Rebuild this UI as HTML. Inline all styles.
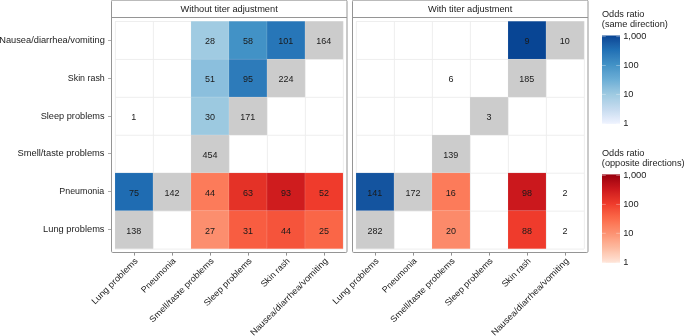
<!DOCTYPE html><html><head><meta charset="utf-8"><style>html,body{margin:0;padding:0;background:#fff;overflow:hidden}svg{display:block;will-change:transform;}text{font-family:"Liberation Sans", sans-serif;}</style></head><body>
<svg width="685" height="336" viewBox="0 0 685 336">
<rect width="685" height="336" fill="#fff"/>
<line x1="115.40" y1="21.20" x2="115.40" y2="248.78" stroke="#ececec" stroke-width="0.9"/>
<line x1="115.00" y1="21.50" x2="343.00" y2="21.50" stroke="#ececec" stroke-width="0.9"/>
<line x1="153.40" y1="21.20" x2="153.40" y2="248.78" stroke="#ececec" stroke-width="0.9"/>
<line x1="115.00" y1="59.43" x2="343.00" y2="59.43" stroke="#ececec" stroke-width="0.9"/>
<line x1="191.40" y1="21.20" x2="191.40" y2="248.78" stroke="#ececec" stroke-width="0.9"/>
<line x1="115.00" y1="97.36" x2="343.00" y2="97.36" stroke="#ececec" stroke-width="0.9"/>
<line x1="229.40" y1="21.20" x2="229.40" y2="248.78" stroke="#ececec" stroke-width="0.9"/>
<line x1="115.00" y1="135.29" x2="343.00" y2="135.29" stroke="#ececec" stroke-width="0.9"/>
<line x1="267.40" y1="21.20" x2="267.40" y2="248.78" stroke="#ececec" stroke-width="0.9"/>
<line x1="115.00" y1="173.22" x2="343.00" y2="173.22" stroke="#ececec" stroke-width="0.9"/>
<line x1="305.40" y1="21.20" x2="305.40" y2="248.78" stroke="#ececec" stroke-width="0.9"/>
<line x1="115.00" y1="211.15" x2="343.00" y2="211.15" stroke="#ececec" stroke-width="0.9"/>
<line x1="343.40" y1="21.20" x2="343.40" y2="248.78" stroke="#ececec" stroke-width="0.9"/>
<line x1="115.00" y1="249.08" x2="343.00" y2="249.08" stroke="#ececec" stroke-width="0.9"/>
<rect x="191.00" y="21.20" width="38.00" height="37.93" fill="#a0cbe2" stroke="#ffffff" stroke-opacity="0.25" stroke-width="0.4"/>
<rect x="229.00" y="21.20" width="38.00" height="37.93" fill="#4292c6" stroke="#ffffff" stroke-opacity="0.25" stroke-width="0.4"/>
<rect x="267.00" y="21.20" width="38.00" height="37.93" fill="#2776b8" stroke="#ffffff" stroke-opacity="0.25" stroke-width="0.4"/>
<rect x="305.00" y="21.20" width="38.00" height="37.93" fill="#cccccc" stroke="#ffffff" stroke-opacity="0.25" stroke-width="0.4"/>
<rect x="191.00" y="59.13" width="38.00" height="37.93" fill="#8bbfdd" stroke="#ffffff" stroke-opacity="0.25" stroke-width="0.4"/>
<rect x="229.00" y="59.13" width="38.00" height="37.93" fill="#2d7bba" stroke="#ffffff" stroke-opacity="0.25" stroke-width="0.4"/>
<rect x="267.00" y="59.13" width="38.00" height="37.93" fill="#cccccc" stroke="#ffffff" stroke-opacity="0.25" stroke-width="0.4"/>
<rect x="191.00" y="97.06" width="38.00" height="37.93" fill="#9cc9e0" stroke="#ffffff" stroke-opacity="0.25" stroke-width="0.4"/>
<rect x="229.00" y="97.06" width="38.00" height="37.93" fill="#cccccc" stroke="#ffffff" stroke-opacity="0.25" stroke-width="0.4"/>
<rect x="191.00" y="134.99" width="38.00" height="37.93" fill="#cccccc" stroke="#ffffff" stroke-opacity="0.25" stroke-width="0.4"/>
<rect x="115.00" y="172.92" width="38.00" height="37.93" fill="#1f6cb2" stroke="#ffffff" stroke-opacity="0.25" stroke-width="0.4"/>
<rect x="153.00" y="172.92" width="38.00" height="37.93" fill="#cccccc" stroke="#ffffff" stroke-opacity="0.25" stroke-width="0.4"/>
<rect x="191.00" y="172.92" width="38.00" height="37.93" fill="#fc7b5a" stroke="#ffffff" stroke-opacity="0.25" stroke-width="0.4"/>
<rect x="229.00" y="172.92" width="38.00" height="37.93" fill="#e43227" stroke="#ffffff" stroke-opacity="0.25" stroke-width="0.4"/>
<rect x="267.00" y="172.92" width="38.00" height="37.93" fill="#cf1c1e" stroke="#ffffff" stroke-opacity="0.25" stroke-width="0.4"/>
<rect x="305.00" y="172.92" width="38.00" height="37.93" fill="#ef3b2c" stroke="#ffffff" stroke-opacity="0.25" stroke-width="0.4"/>
<rect x="115.00" y="210.85" width="38.00" height="37.93" fill="#cccccc" stroke="#ffffff" stroke-opacity="0.25" stroke-width="0.4"/>
<rect x="191.00" y="210.85" width="38.00" height="37.93" fill="#fc8e6e" stroke="#ffffff" stroke-opacity="0.25" stroke-width="0.4"/>
<rect x="229.00" y="210.85" width="38.00" height="37.93" fill="#f85d41" stroke="#ffffff" stroke-opacity="0.25" stroke-width="0.4"/>
<rect x="267.00" y="210.85" width="38.00" height="37.93" fill="#f5543b" stroke="#ffffff" stroke-opacity="0.25" stroke-width="0.4"/>
<rect x="305.00" y="210.85" width="38.00" height="37.93" fill="#fa6647" stroke="#ffffff" stroke-opacity="0.25" stroke-width="0.4"/>
<text x="204.96" y="44.31" font-size="9.00" fill="#1a1a1a" textLength="10.01" lengthAdjust="spacingAndGlyphs">28</text>
<text x="243.01" y="44.31" font-size="9.00" fill="#1a1a1a" textLength="10.01" lengthAdjust="spacingAndGlyphs">58</text>
<text x="278.37" y="44.31" font-size="9.00" fill="#1a1a1a" textLength="15.02" lengthAdjust="spacingAndGlyphs">101</text>
<text x="316.28" y="44.31" font-size="9.00" fill="#1a1a1a" textLength="15.02" lengthAdjust="spacingAndGlyphs">164</text>
<text x="205.03" y="82.25" font-size="9.00" fill="#1a1a1a" textLength="10.01" lengthAdjust="spacingAndGlyphs">51</text>
<text x="242.97" y="82.25" font-size="9.00" fill="#1a1a1a" textLength="10.01" lengthAdjust="spacingAndGlyphs">95</text>
<text x="278.40" y="82.25" font-size="9.00" fill="#1a1a1a" textLength="15.02" lengthAdjust="spacingAndGlyphs">224</text>
<text x="131.37" y="120.18" font-size="9.00" fill="#1a1a1a" textLength="5.01" lengthAdjust="spacingAndGlyphs">1</text>
<text x="205.00" y="120.18" font-size="9.00" fill="#1a1a1a" textLength="10.01" lengthAdjust="spacingAndGlyphs">30</text>
<text x="240.37" y="120.18" font-size="9.00" fill="#1a1a1a" textLength="15.02" lengthAdjust="spacingAndGlyphs">171</text>
<text x="202.53" y="158.10" font-size="9.00" fill="#1a1a1a" textLength="15.02" lengthAdjust="spacingAndGlyphs">454</text>
<text x="128.95" y="196.03" font-size="9.00" fill="#1a1a1a" textLength="10.01" lengthAdjust="spacingAndGlyphs">75</text>
<text x="164.38" y="196.03" font-size="9.00" fill="#1a1a1a" textLength="15.02" lengthAdjust="spacingAndGlyphs">142</text>
<text x="205.03" y="196.03" font-size="9.00" fill="#1a1a1a" textLength="10.01" lengthAdjust="spacingAndGlyphs">44</text>
<text x="242.96" y="196.03" font-size="9.00" fill="#1a1a1a" textLength="10.01" lengthAdjust="spacingAndGlyphs">63</text>
<text x="280.98" y="196.03" font-size="9.00" fill="#1a1a1a" textLength="10.01" lengthAdjust="spacingAndGlyphs">93</text>
<text x="319.04" y="196.03" font-size="9.00" fill="#1a1a1a" textLength="10.01" lengthAdjust="spacingAndGlyphs">52</text>
<text x="126.35" y="233.97" font-size="9.00" fill="#1a1a1a" textLength="15.02" lengthAdjust="spacingAndGlyphs">138</text>
<text x="205.00" y="233.97" font-size="9.00" fill="#1a1a1a" textLength="10.01" lengthAdjust="spacingAndGlyphs">27</text>
<text x="243.04" y="233.97" font-size="9.00" fill="#1a1a1a" textLength="10.01" lengthAdjust="spacingAndGlyphs">31</text>
<text x="281.03" y="233.97" font-size="9.00" fill="#1a1a1a" textLength="10.01" lengthAdjust="spacingAndGlyphs">44</text>
<text x="318.96" y="233.97" font-size="9.00" fill="#1a1a1a" textLength="10.01" lengthAdjust="spacingAndGlyphs">25</text>
<rect x="111.50" y="0.15" width="235.50" height="252.35" rx="1.2" fill="none" stroke="#959595" stroke-width="1"/>
<line x1="111.0" y1="17.5" x2="347.0" y2="17.5" stroke="#959595" stroke-width="1"/>
<text x="180.56" y="12.00" font-size="8.70" fill="#1a1a1a" textLength="97.20" lengthAdjust="spacingAndGlyphs">Without titer adjustment</text>
<line x1="134.50" y1="252.6" x2="134.50" y2="255.6" stroke="#909090" stroke-width="1"/>
<g transform="translate(133.90,257.00) rotate(-45)">
<text x="-61.40" y="6.26" font-size="8.70" fill="#222222" textLength="61.40" lengthAdjust="spacingAndGlyphs">Lung problems</text>
</g>
<line x1="172.50" y1="252.6" x2="172.50" y2="255.6" stroke="#909090" stroke-width="1"/>
<g transform="translate(171.90,257.00) rotate(-45)">
<text x="-44.92" y="6.26" font-size="8.70" fill="#222222" textLength="44.92" lengthAdjust="spacingAndGlyphs">Pneumonia</text>
</g>
<line x1="210.50" y1="252.6" x2="210.50" y2="255.6" stroke="#909090" stroke-width="1"/>
<g transform="translate(209.90,257.00) rotate(-45)">
<text x="-87.05" y="6.26" font-size="8.70" fill="#222222" textLength="87.05" lengthAdjust="spacingAndGlyphs">Smell/taste problems</text>
</g>
<line x1="248.50" y1="252.6" x2="248.50" y2="255.6" stroke="#909090" stroke-width="1"/>
<g transform="translate(247.90,257.00) rotate(-45)">
<text x="-63.85" y="6.26" font-size="8.70" fill="#222222" textLength="63.85" lengthAdjust="spacingAndGlyphs">Sleep problems</text>
</g>
<line x1="286.50" y1="252.6" x2="286.50" y2="255.6" stroke="#909090" stroke-width="1"/>
<g transform="translate(285.90,257.00) rotate(-45)">
<text x="-36.97" y="6.26" font-size="8.70" fill="#222222" textLength="36.97" lengthAdjust="spacingAndGlyphs">Skin rash</text>
</g>
<line x1="324.50" y1="252.6" x2="324.50" y2="255.6" stroke="#909090" stroke-width="1"/>
<g transform="translate(323.90,257.00) rotate(-45)">
<text x="-105.55" y="6.26" font-size="8.70" fill="#222222" textLength="105.55" lengthAdjust="spacingAndGlyphs">Nausea/diarrhea/vomiting</text>
</g>
<line x1="356.40" y1="21.20" x2="356.40" y2="248.78" stroke="#ececec" stroke-width="0.9"/>
<line x1="356.00" y1="21.50" x2="584.00" y2="21.50" stroke="#ececec" stroke-width="0.9"/>
<line x1="394.40" y1="21.20" x2="394.40" y2="248.78" stroke="#ececec" stroke-width="0.9"/>
<line x1="356.00" y1="59.43" x2="584.00" y2="59.43" stroke="#ececec" stroke-width="0.9"/>
<line x1="432.40" y1="21.20" x2="432.40" y2="248.78" stroke="#ececec" stroke-width="0.9"/>
<line x1="356.00" y1="97.36" x2="584.00" y2="97.36" stroke="#ececec" stroke-width="0.9"/>
<line x1="470.40" y1="21.20" x2="470.40" y2="248.78" stroke="#ececec" stroke-width="0.9"/>
<line x1="356.00" y1="135.29" x2="584.00" y2="135.29" stroke="#ececec" stroke-width="0.9"/>
<line x1="508.40" y1="21.20" x2="508.40" y2="248.78" stroke="#ececec" stroke-width="0.9"/>
<line x1="356.00" y1="173.22" x2="584.00" y2="173.22" stroke="#ececec" stroke-width="0.9"/>
<line x1="546.40" y1="21.20" x2="546.40" y2="248.78" stroke="#ececec" stroke-width="0.9"/>
<line x1="356.00" y1="211.15" x2="584.00" y2="211.15" stroke="#ececec" stroke-width="0.9"/>
<line x1="584.40" y1="21.20" x2="584.40" y2="248.78" stroke="#ececec" stroke-width="0.9"/>
<line x1="356.00" y1="249.08" x2="584.00" y2="249.08" stroke="#ececec" stroke-width="0.9"/>
<rect x="508.00" y="21.20" width="38.00" height="37.93" fill="#084594" stroke="#ffffff" stroke-opacity="0.25" stroke-width="0.4"/>
<rect x="546.00" y="21.20" width="38.00" height="37.93" fill="#cccccc" stroke="#ffffff" stroke-opacity="0.25" stroke-width="0.4"/>
<rect x="508.00" y="59.13" width="38.00" height="37.93" fill="#cccccc" stroke="#ffffff" stroke-opacity="0.25" stroke-width="0.4"/>
<rect x="470.00" y="97.06" width="38.00" height="37.93" fill="#cccccc" stroke="#ffffff" stroke-opacity="0.25" stroke-width="0.4"/>
<rect x="432.00" y="134.99" width="38.00" height="37.93" fill="#cccccc" stroke="#ffffff" stroke-opacity="0.25" stroke-width="0.4"/>
<rect x="356.00" y="172.92" width="38.00" height="37.93" fill="#14549f" stroke="#ffffff" stroke-opacity="0.25" stroke-width="0.4"/>
<rect x="394.00" y="172.92" width="38.00" height="37.93" fill="#cccccc" stroke="#ffffff" stroke-opacity="0.25" stroke-width="0.4"/>
<rect x="432.00" y="172.92" width="38.00" height="37.93" fill="#fc7b5a" stroke="#ffffff" stroke-opacity="0.25" stroke-width="0.4"/>
<rect x="508.00" y="172.92" width="38.00" height="37.93" fill="#cb181d" stroke="#ffffff" stroke-opacity="0.25" stroke-width="0.4"/>
<rect x="356.00" y="210.85" width="38.00" height="37.93" fill="#cccccc" stroke="#ffffff" stroke-opacity="0.25" stroke-width="0.4"/>
<rect x="432.00" y="210.85" width="38.00" height="37.93" fill="#fc8a6a" stroke="#ffffff" stroke-opacity="0.25" stroke-width="0.4"/>
<rect x="508.00" y="210.85" width="38.00" height="37.93" fill="#ef3b2c" stroke="#ffffff" stroke-opacity="0.25" stroke-width="0.4"/>
<text x="524.50" y="44.31" font-size="9.00" fill="#1a1a1a" textLength="5.01" lengthAdjust="spacingAndGlyphs">9</text>
<text x="559.83" y="44.31" font-size="9.00" fill="#1a1a1a" textLength="10.01" lengthAdjust="spacingAndGlyphs">10</text>
<text x="448.47" y="82.25" font-size="9.00" fill="#1a1a1a" textLength="5.01" lengthAdjust="spacingAndGlyphs">6</text>
<text x="519.34" y="82.25" font-size="9.00" fill="#1a1a1a" textLength="15.02" lengthAdjust="spacingAndGlyphs">185</text>
<text x="486.52" y="120.18" font-size="9.00" fill="#1a1a1a" textLength="5.01" lengthAdjust="spacingAndGlyphs">3</text>
<text x="443.36" y="158.10" font-size="9.00" fill="#1a1a1a" textLength="15.02" lengthAdjust="spacingAndGlyphs">139</text>
<text x="367.37" y="196.03" font-size="9.00" fill="#1a1a1a" textLength="15.02" lengthAdjust="spacingAndGlyphs">141</text>
<text x="405.38" y="196.03" font-size="9.00" fill="#1a1a1a" textLength="15.02" lengthAdjust="spacingAndGlyphs">172</text>
<text x="445.85" y="196.03" font-size="9.00" fill="#1a1a1a" textLength="10.01" lengthAdjust="spacingAndGlyphs">16</text>
<text x="521.98" y="196.03" font-size="9.00" fill="#1a1a1a" textLength="10.01" lengthAdjust="spacingAndGlyphs">98</text>
<text x="562.50" y="196.03" font-size="9.00" fill="#1a1a1a" textLength="5.01" lengthAdjust="spacingAndGlyphs">2</text>
<text x="367.49" y="233.97" font-size="9.00" fill="#1a1a1a" textLength="15.02" lengthAdjust="spacingAndGlyphs">282</text>
<text x="445.94" y="233.97" font-size="9.00" fill="#1a1a1a" textLength="10.01" lengthAdjust="spacingAndGlyphs">20</text>
<text x="522.00" y="233.97" font-size="9.00" fill="#1a1a1a" textLength="10.01" lengthAdjust="spacingAndGlyphs">88</text>
<text x="562.50" y="233.97" font-size="9.00" fill="#1a1a1a" textLength="5.01" lengthAdjust="spacingAndGlyphs">2</text>
<rect x="352.50" y="0.15" width="235.50" height="252.35" rx="1.2" fill="none" stroke="#959595" stroke-width="1"/>
<line x1="352.0" y1="17.5" x2="588.0" y2="17.5" stroke="#959595" stroke-width="1"/>
<text x="427.96" y="12.00" font-size="8.70" fill="#1a1a1a" textLength="84.40" lengthAdjust="spacingAndGlyphs">With titer adjustment</text>
<line x1="375.50" y1="252.6" x2="375.50" y2="255.6" stroke="#909090" stroke-width="1"/>
<g transform="translate(374.90,257.00) rotate(-45)">
<text x="-61.40" y="6.26" font-size="8.70" fill="#222222" textLength="61.40" lengthAdjust="spacingAndGlyphs">Lung problems</text>
</g>
<line x1="413.50" y1="252.6" x2="413.50" y2="255.6" stroke="#909090" stroke-width="1"/>
<g transform="translate(412.90,257.00) rotate(-45)">
<text x="-44.92" y="6.26" font-size="8.70" fill="#222222" textLength="44.92" lengthAdjust="spacingAndGlyphs">Pneumonia</text>
</g>
<line x1="451.50" y1="252.6" x2="451.50" y2="255.6" stroke="#909090" stroke-width="1"/>
<g transform="translate(450.90,257.00) rotate(-45)">
<text x="-87.05" y="6.26" font-size="8.70" fill="#222222" textLength="87.05" lengthAdjust="spacingAndGlyphs">Smell/taste problems</text>
</g>
<line x1="489.50" y1="252.6" x2="489.50" y2="255.6" stroke="#909090" stroke-width="1"/>
<g transform="translate(488.90,257.00) rotate(-45)">
<text x="-63.85" y="6.26" font-size="8.70" fill="#222222" textLength="63.85" lengthAdjust="spacingAndGlyphs">Sleep problems</text>
</g>
<line x1="527.50" y1="252.6" x2="527.50" y2="255.6" stroke="#909090" stroke-width="1"/>
<g transform="translate(526.90,257.00) rotate(-45)">
<text x="-36.97" y="6.26" font-size="8.70" fill="#222222" textLength="36.97" lengthAdjust="spacingAndGlyphs">Skin rash</text>
</g>
<line x1="565.50" y1="252.6" x2="565.50" y2="255.6" stroke="#909090" stroke-width="1"/>
<g transform="translate(564.90,257.00) rotate(-45)">
<text x="-105.55" y="6.26" font-size="8.70" fill="#222222" textLength="105.55" lengthAdjust="spacingAndGlyphs">Nausea/diarrhea/vomiting</text>
</g>
<line x1="108.0" y1="40.50" x2="111" y2="40.50" stroke="#ababab" stroke-width="1"/>
<text x="-0.76" y="42.80" font-size="8.70" fill="#222222" textLength="105.55" lengthAdjust="spacingAndGlyphs">Nausea/diarrhea/vomiting</text>
<line x1="108.0" y1="78.50" x2="111" y2="78.50" stroke="#ababab" stroke-width="1"/>
<text x="67.80" y="80.95" font-size="8.70" fill="#222222" textLength="36.97" lengthAdjust="spacingAndGlyphs">Skin rash</text>
<line x1="108.0" y1="116.50" x2="111" y2="116.50" stroke="#ababab" stroke-width="1"/>
<text x="40.69" y="118.60" font-size="8.70" fill="#222222" textLength="63.85" lengthAdjust="spacingAndGlyphs">Sleep problems</text>
<line x1="108.0" y1="153.50" x2="111" y2="153.50" stroke="#ababab" stroke-width="1"/>
<text x="17.48" y="156.20" font-size="8.70" fill="#222222" textLength="87.05" lengthAdjust="spacingAndGlyphs">Smell/taste problems</text>
<line x1="108.0" y1="191.50" x2="111" y2="191.50" stroke="#ababab" stroke-width="1"/>
<text x="59.27" y="193.80" font-size="8.70" fill="#222222" textLength="44.92" lengthAdjust="spacingAndGlyphs">Pneumonia</text>
<line x1="108.0" y1="229.50" x2="111" y2="229.50" stroke="#ababab" stroke-width="1"/>
<text x="43.14" y="231.80" font-size="8.70" fill="#222222" textLength="61.40" lengthAdjust="spacingAndGlyphs">Lung problems</text>
<text x="601.97" y="16.70" font-size="8.70" fill="#222222" textLength="42.31" lengthAdjust="spacingAndGlyphs">Odds ratio</text>
<text x="601.83" y="26.70" font-size="8.70" fill="#222222" textLength="66.04" lengthAdjust="spacingAndGlyphs">(same direction)</text>
<defs><linearGradient id="gb" x1="0" y1="1" x2="0" y2="0">
<stop offset="0.0000" stop-color="#eff3ff"/>
<stop offset="0.0167" stop-color="#ebf1fd"/>
<stop offset="0.0333" stop-color="#e7eefc"/>
<stop offset="0.0500" stop-color="#e3ecfa"/>
<stop offset="0.0667" stop-color="#dfe9f9"/>
<stop offset="0.0833" stop-color="#dbe7f7"/>
<stop offset="0.1000" stop-color="#d6e5f5"/>
<stop offset="0.1167" stop-color="#d2e2f4"/>
<stop offset="0.1333" stop-color="#cee0f2"/>
<stop offset="0.1500" stop-color="#caddf1"/>
<stop offset="0.1667" stop-color="#c6dbef"/>
<stop offset="0.1833" stop-color="#c2d9ee"/>
<stop offset="0.2000" stop-color="#bed8ec"/>
<stop offset="0.2167" stop-color="#bad6eb"/>
<stop offset="0.2333" stop-color="#b6d4e9"/>
<stop offset="0.2500" stop-color="#b2d2e8"/>
<stop offset="0.2667" stop-color="#aed1e7"/>
<stop offset="0.2833" stop-color="#aacfe5"/>
<stop offset="0.3000" stop-color="#a6cde4"/>
<stop offset="0.3167" stop-color="#a2cce2"/>
<stop offset="0.3333" stop-color="#9ecae1"/>
<stop offset="0.3500" stop-color="#99c7e0"/>
<stop offset="0.3667" stop-color="#94c4df"/>
<stop offset="0.3833" stop-color="#90c2de"/>
<stop offset="0.4000" stop-color="#8bbfdd"/>
<stop offset="0.4167" stop-color="#86bcdc"/>
<stop offset="0.4333" stop-color="#81b9da"/>
<stop offset="0.4500" stop-color="#7bb6d9"/>
<stop offset="0.4667" stop-color="#76b4d8"/>
<stop offset="0.4833" stop-color="#71b1d7"/>
<stop offset="0.5000" stop-color="#6baed6"/>
<stop offset="0.5167" stop-color="#67abd4"/>
<stop offset="0.5333" stop-color="#63a8d3"/>
<stop offset="0.5500" stop-color="#60a5d1"/>
<stop offset="0.5667" stop-color="#5ca3d0"/>
<stop offset="0.5833" stop-color="#58a0ce"/>
<stop offset="0.6000" stop-color="#549dcc"/>
<stop offset="0.6167" stop-color="#4f9acb"/>
<stop offset="0.6333" stop-color="#4b98c9"/>
<stop offset="0.6500" stop-color="#4795c8"/>
<stop offset="0.6667" stop-color="#4292c6"/>
<stop offset="0.6833" stop-color="#3f8fc4"/>
<stop offset="0.7000" stop-color="#3c8bc3"/>
<stop offset="0.7167" stop-color="#3a88c1"/>
<stop offset="0.7333" stop-color="#3785bf"/>
<stop offset="0.7500" stop-color="#3381be"/>
<stop offset="0.7667" stop-color="#307ebc"/>
<stop offset="0.7833" stop-color="#2d7bba"/>
<stop offset="0.8000" stop-color="#2977b8"/>
<stop offset="0.8167" stop-color="#2574b7"/>
<stop offset="0.8333" stop-color="#2171b5"/>
<stop offset="0.8500" stop-color="#1f6cb2"/>
<stop offset="0.8667" stop-color="#1e68ae"/>
<stop offset="0.8833" stop-color="#1c64ab"/>
<stop offset="0.9000" stop-color="#1a5fa8"/>
<stop offset="0.9167" stop-color="#185ba4"/>
<stop offset="0.9333" stop-color="#1556a1"/>
<stop offset="0.9500" stop-color="#13529e"/>
<stop offset="0.9667" stop-color="#104e9b"/>
<stop offset="0.9833" stop-color="#0c4997"/>
<stop offset="1.0000" stop-color="#084594"/>
</linearGradient></defs>
<rect x="602" y="35.50" width="18" height="88.40" fill="url(#gb)"/>
<line x1="602" y1="36.60" x2="605.8" y2="36.60" stroke="#fff" stroke-opacity="0.55" stroke-width="0.6"/>
<line x1="616.2" y1="36.60" x2="620" y2="36.60" stroke="#fff" stroke-opacity="0.55" stroke-width="0.6"/>
<text x="623.19" y="39.20" font-size="9.30" fill="#222222" textLength="23.27" lengthAdjust="spacingAndGlyphs">1,000</text>
<line x1="602" y1="65.50" x2="605.8" y2="65.50" stroke="#fff" stroke-opacity="0.55" stroke-width="0.6"/>
<line x1="616.2" y1="65.50" x2="620" y2="65.50" stroke="#fff" stroke-opacity="0.55" stroke-width="0.6"/>
<text x="623.19" y="68.10" font-size="9.30" fill="#222222" textLength="15.52" lengthAdjust="spacingAndGlyphs">100</text>
<line x1="602" y1="94.40" x2="605.8" y2="94.40" stroke="#fff" stroke-opacity="0.55" stroke-width="0.6"/>
<line x1="616.2" y1="94.40" x2="620" y2="94.40" stroke="#fff" stroke-opacity="0.55" stroke-width="0.6"/>
<text x="623.19" y="97.00" font-size="9.30" fill="#222222" textLength="10.34" lengthAdjust="spacingAndGlyphs">10</text>
<line x1="602" y1="123.30" x2="605.8" y2="123.30" stroke="#fff" stroke-opacity="0.55" stroke-width="0.6"/>
<line x1="616.2" y1="123.30" x2="620" y2="123.30" stroke="#fff" stroke-opacity="0.55" stroke-width="0.6"/>
<text x="623.19" y="125.90" font-size="9.30" fill="#222222" textLength="5.17" lengthAdjust="spacingAndGlyphs">1</text>
<text x="601.97" y="155.50" font-size="8.70" fill="#222222" textLength="42.31" lengthAdjust="spacingAndGlyphs">Odds ratio</text>
<text x="601.83" y="165.50" font-size="8.70" fill="#222222" textLength="82.74" lengthAdjust="spacingAndGlyphs">(opposite directions)</text>
<defs><linearGradient id="gr" x1="0" y1="1" x2="0" y2="0">
<stop offset="0.0000" stop-color="#fee5d9"/>
<stop offset="0.0167" stop-color="#fee1d3"/>
<stop offset="0.0333" stop-color="#feddce"/>
<stop offset="0.0500" stop-color="#fed8c8"/>
<stop offset="0.0667" stop-color="#fed4c2"/>
<stop offset="0.0833" stop-color="#fed0bd"/>
<stop offset="0.1000" stop-color="#feccb7"/>
<stop offset="0.1167" stop-color="#fdc8b2"/>
<stop offset="0.1333" stop-color="#fdc3ac"/>
<stop offset="0.1500" stop-color="#fdbfa6"/>
<stop offset="0.1667" stop-color="#fcbba1"/>
<stop offset="0.1833" stop-color="#fcb79c"/>
<stop offset="0.2000" stop-color="#fdb397"/>
<stop offset="0.2167" stop-color="#fdaf93"/>
<stop offset="0.2333" stop-color="#fdab8e"/>
<stop offset="0.2500" stop-color="#fda789"/>
<stop offset="0.2667" stop-color="#fda385"/>
<stop offset="0.2833" stop-color="#fd9f80"/>
<stop offset="0.3000" stop-color="#fc9a7b"/>
<stop offset="0.3167" stop-color="#fc9677"/>
<stop offset="0.3333" stop-color="#fc9272"/>
<stop offset="0.3500" stop-color="#fc8e6e"/>
<stop offset="0.3667" stop-color="#fc8a6a"/>
<stop offset="0.3833" stop-color="#fc8766"/>
<stop offset="0.4000" stop-color="#fc8362"/>
<stop offset="0.4167" stop-color="#fc7f5e"/>
<stop offset="0.4333" stop-color="#fc7b5a"/>
<stop offset="0.4500" stop-color="#fc7756"/>
<stop offset="0.4667" stop-color="#fc7252"/>
<stop offset="0.4833" stop-color="#fb6e4e"/>
<stop offset="0.5000" stop-color="#fb6a4a"/>
<stop offset="0.5167" stop-color="#fa6647"/>
<stop offset="0.5333" stop-color="#f96244"/>
<stop offset="0.5500" stop-color="#f85d41"/>
<stop offset="0.5667" stop-color="#f6593e"/>
<stop offset="0.5833" stop-color="#f5543b"/>
<stop offset="0.6000" stop-color="#f45038"/>
<stop offset="0.6167" stop-color="#f34b35"/>
<stop offset="0.6333" stop-color="#f24632"/>
<stop offset="0.6500" stop-color="#f0412f"/>
<stop offset="0.6667" stop-color="#ef3b2c"/>
<stop offset="0.6833" stop-color="#eb382a"/>
<stop offset="0.7000" stop-color="#e83529"/>
<stop offset="0.7167" stop-color="#e43227"/>
<stop offset="0.7333" stop-color="#e12e26"/>
<stop offset="0.7500" stop-color="#dd2b24"/>
<stop offset="0.7667" stop-color="#d92823"/>
<stop offset="0.7833" stop-color="#d62421"/>
<stop offset="0.8000" stop-color="#d22020"/>
<stop offset="0.8167" stop-color="#cf1c1e"/>
<stop offset="0.8333" stop-color="#cb181d"/>
<stop offset="0.8500" stop-color="#c6161b"/>
<stop offset="0.8667" stop-color="#c1131a"/>
<stop offset="0.8833" stop-color="#bc1118"/>
<stop offset="0.9000" stop-color="#b70f17"/>
<stop offset="0.9167" stop-color="#b20c15"/>
<stop offset="0.9333" stop-color="#ad0913"/>
<stop offset="0.9500" stop-color="#a80712"/>
<stop offset="0.9667" stop-color="#a30410"/>
<stop offset="0.9833" stop-color="#9e020f"/>
<stop offset="1.0000" stop-color="#99000d"/>
</linearGradient></defs>
<rect x="602" y="174.40" width="18" height="88.40" fill="url(#gr)"/>
<line x1="602" y1="175.50" x2="605.8" y2="175.50" stroke="#fff" stroke-opacity="0.55" stroke-width="0.6"/>
<line x1="616.2" y1="175.50" x2="620" y2="175.50" stroke="#fff" stroke-opacity="0.55" stroke-width="0.6"/>
<text x="623.19" y="178.10" font-size="9.30" fill="#222222" textLength="23.27" lengthAdjust="spacingAndGlyphs">1,000</text>
<line x1="602" y1="204.40" x2="605.8" y2="204.40" stroke="#fff" stroke-opacity="0.55" stroke-width="0.6"/>
<line x1="616.2" y1="204.40" x2="620" y2="204.40" stroke="#fff" stroke-opacity="0.55" stroke-width="0.6"/>
<text x="623.19" y="207.00" font-size="9.30" fill="#222222" textLength="15.52" lengthAdjust="spacingAndGlyphs">100</text>
<line x1="602" y1="233.30" x2="605.8" y2="233.30" stroke="#fff" stroke-opacity="0.55" stroke-width="0.6"/>
<line x1="616.2" y1="233.30" x2="620" y2="233.30" stroke="#fff" stroke-opacity="0.55" stroke-width="0.6"/>
<text x="623.19" y="235.90" font-size="9.30" fill="#222222" textLength="10.34" lengthAdjust="spacingAndGlyphs">10</text>
<line x1="602" y1="262.20" x2="605.8" y2="262.20" stroke="#fff" stroke-opacity="0.55" stroke-width="0.6"/>
<line x1="616.2" y1="262.20" x2="620" y2="262.20" stroke="#fff" stroke-opacity="0.55" stroke-width="0.6"/>
<text x="623.19" y="264.80" font-size="9.30" fill="#222222" textLength="5.17" lengthAdjust="spacingAndGlyphs">1</text>
</svg></body></html>
